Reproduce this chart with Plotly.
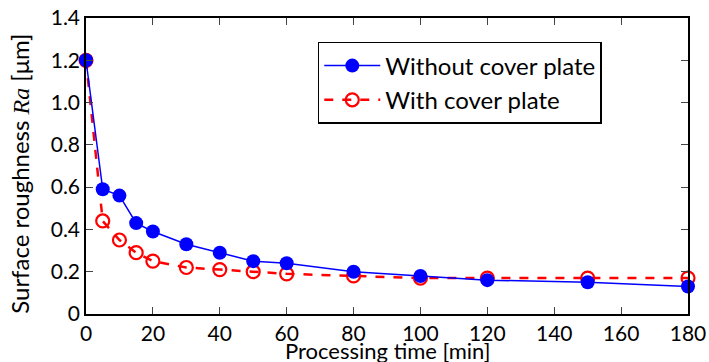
import plotly.graph_objects as go

time_min = [0, 5, 10, 15, 20, 30, 40, 50, 60, 80, 100, 120, 150, 180]
ra_without = [1.20, 0.59, 0.56, 0.43, 0.39, 0.33, 0.29, 0.25, 0.24, 0.20, 0.18, 0.16, 0.15, 0.13]
ra_with = [1.20, 0.44, 0.35, 0.29, 0.25, 0.22, 0.21, 0.20, 0.19, 0.18, 0.17, 0.17, 0.17, 0.17]
y_ticks = [0, 0.2, 0.4, 0.6, 0.8, 1.0, 1.2, 1.4]
y_tick_text = ["0", "0.2", "0.4", "0.6", "0.8", "1.0", "1.2", "1.4"]
x_ticks = [0, 20, 40, 60, 80, 100, 120, 140, 160, 180]
x_title = "Processing time [min]"
y_title = 'Surface roughness <span style="font-family:Liberation Serif"><i>Ra</i></span> [μm]'

FONT = "Lato"
TICK_FS = 21
X_TITLE_FS = 22
Y_TITLE_FS = 24
LEGEND_FS = 24

fig = go.Figure()
fig.add_trace(go.Scatter(
    x=time_min, y=ra_with, name="With cover plate", mode="lines+markers",
    line=dict(color="#ff0000", width=2.5, dash="dash"),
    marker=dict(symbol="circle-open", size=13, color="#ff0000", line=dict(width=2.2, color="#ff0000")),
    cliponaxis=False, legendrank=2, legendgroup="b",
))
fig.add_trace(go.Scatter(
    x=time_min, y=ra_without, name="Without cover plate", mode="lines+markers",
    line=dict(color="#0000ff", width=1.5),
    marker=dict(symbol="circle", size=14, color="#0000ff"),
    cliponaxis=False, legendrank=1, legendgroup="a",
))

fig.update_layout(
    width=709, height=362,
    margin=dict(l=86, r=21, t=18, b=48, autoexpand=False),
    paper_bgcolor="white", plot_bgcolor="white",
    font=dict(family=FONT, size=X_TITLE_FS, color="black"),
    showlegend=True,
    legend=dict(x=0.385, y=0.919, xanchor="left", yanchor="top",
                bordercolor="black", borderwidth=1.5, bgcolor="white",
                font=dict(family=FONT, size=LEGEND_FS), tracegroupgap=0,
                traceorder="grouped", itemwidth=56),
    annotations=[
        dict(text=x_title, xref="paper", yref="paper", x=0.5, y=-0.122,
             xanchor="center", yanchor="middle", showarrow=False,
             font=dict(family=FONT, size=X_TITLE_FS)),
        dict(text=y_title, xref="paper", yref="paper", x=-0.11, y=0.473,
             xanchor="center", yanchor="middle", showarrow=False, textangle=-90,
             font=dict(family=FONT, size=Y_TITLE_FS)),
    ],
)
fig.update_xaxes(
    range=[0, 180], tickvals=x_ticks, ticks="inside", ticklen=7, tickwidth=1.2,
    showline=True, linecolor="black", linewidth=1.5, mirror="ticks",
    showgrid=False, zeroline=False, automargin=False, ticklabeloverflow="allow",
    tickfont=dict(size=TICK_FS),
)
fig.update_yaxes(
    range=[0, 1.4], tickvals=y_ticks, ticktext=y_tick_text, ticks="inside", ticklen=7, tickwidth=1.2,
    showline=True, linecolor="black", linewidth=1.5, mirror="ticks",
    showgrid=False, zeroline=False, automargin=False, ticklabeloverflow="allow",
    tickfont=dict(size=TICK_FS),
)

fig.write_html(
    "out.html",
    config={"displayModeBar": False},
    post_script="document.body.style.margin='0';document.body.style.overflow='hidden';",
)
